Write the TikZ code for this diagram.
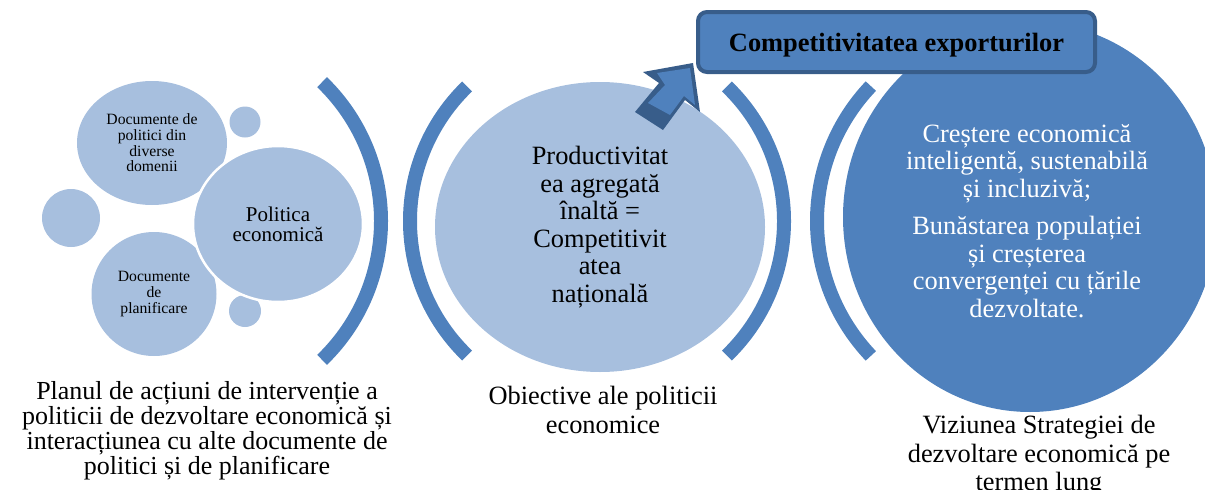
\documentclass[tikz,border=0pt]{standalone}
\usepackage{fontspec}
\setmainfont{Liberation Serif}
\usepackage{xcolor}
\usetikzlibrary{shapes.geometric}
\definecolor{paleblue}{HTML}{A7BFDE}
\definecolor{midblue}{HTML}{4F81BD}
\definecolor{edgeblue}{HTML}{385D8A}

\begin{document}
\begin{tikzpicture}[
  x=1pt, y=-1pt,
  bubble/.style={
    ellipse,
    fill=paleblue,
    inner sep=0pt,
    align=center
  },
  bracket/.style={draw=midblue, line width=14pt},
  smalltext/.style={font=\fontsize{15.7}{15.7}\selectfont},
  bigtext/.style={font=\fontsize{26.4}{27.5}\selectfont},
  caption/.style={align=center, font=\fontsize{26.4}{28.5}\selectfont},
  headbox/.style={
    draw=edgeblue,
    line width=4pt,
    rounded corners=9pt,
    fill=midblue,
    minimum width=397pt,
    minimum height=60pt,
    text depth=0pt,
    font=\bfseries\fontsize{26.4}{27.5}\selectfont
  }
]
\useasboundingbox (0,0) rectangle (1205,490);

% brackets
\draw[bracket] (188,221) ++(-46:193) arc[start angle=-46, end angle=46, radius=193];
\draw[bracket] (597,221) ++(134:187) arc[start angle=134, end angle=226, radius=187];
\draw[bracket] (597,221) ++(-46:187) arc[start angle=-46, end angle=46, radius=187];
\draw[bracket] (1013,221) ++(136.5:196) arc[start angle=136.5, end angle=223.5, radius=196];

% left group
\node[bubble, minimum width=58pt, minimum height=58pt] (dotleft) at (71,218) {};
\node[bubble, minimum width=31pt, minimum height=31pt] (dottop) at (245,122) {};
\node[bubble, minimum width=32pt, minimum height=32pt] (dotbot) at (245,311) {};
\node[bubble, smalltext, minimum width=150pt, minimum height=124pt] (docpol) at (152,143)
  {Documente de\\politici din\\diverse\\domenii};
\node[bubble, smalltext, minimum width=125pt, minimum height=124pt] (docplan) at (154,294)
  {Documente\\de\\planificare};
\node[bubble, draw=white, line width=2.5pt, minimum width=170pt, minimum height=156pt,
  font=\fontsize{21}{20}\selectfont] (polec) at (278,224)
  {Politica\\economică};

% middle group
\node[bubble, bigtext, minimum width=330pt, minimum height=290pt] (prodnode) at (600,227)
  {Productivitat\\ea agregată\\înaltă =\\Competitivit\\atea\\națională};

\fill[edgeblue] (693,63) -- (643,72) -- (659,83) -- (635,112) -- (663,130)
  -- (685,100) -- (700,112) -- cycle;
\fill[midblue] (690,68) -- (657,73) -- (665,85) -- (648,103) -- (670,115)
  -- (684,96) -- (695,105) -- cycle;

% right group
\node[ellipse, fill=midblue, inner sep=0pt, minimum width=374pt, minimum height=390pt]
  (visnode) at (1030,217) {};
\node[bigtext, align=center, text=white] (vistext) at (1027,221)
  {Creștere economică\\inteligentă, sustenabilă\\și incluzivă;\\[10pt]
   Bunăstarea populației\\și creșterea\\convergenței cu țările\\dezvoltate.};

\node[headbox] (exportbox) at (896.5,42) {Competitivitatea exporturilor};

% captions
\node[caption, font=\fontsize{26}{25}\selectfont] (capleft) at (207,431)
  {Planul de acțiuni de intervenție a\\politicii de dezvoltare economică și\\interacțiunea cu alte documente de\\politici și de planificare};
\node[caption] (capmid) at (603,410)
  {Obiective ale politicii\\economice};
\node[caption] (capright) at (1039,456)
  {Viziunea Strategiei de\\dezvoltare economică pe\\termen lung};

\end{tikzpicture}
\end{document}
